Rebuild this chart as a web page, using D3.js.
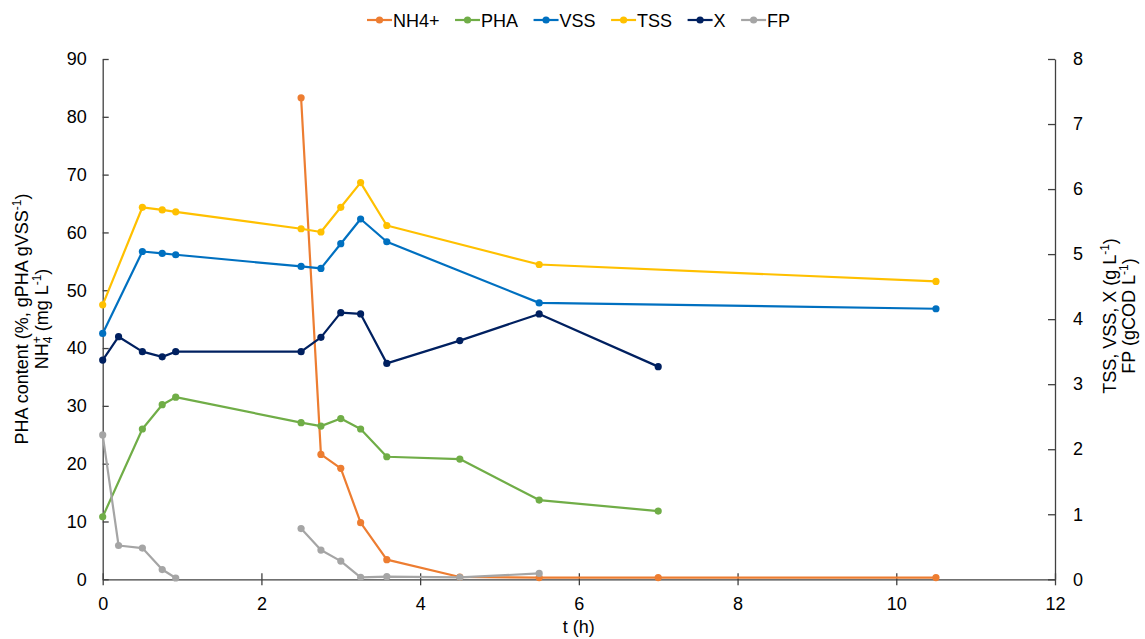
<!DOCTYPE html>
<html>
<head>
<meta charset="utf-8">
<script src="https://cdn.jsdelivr.net/npm/d3@7"></script>
<style>
  body { margin: 0; background: #fff; }
  svg { display: block; font-family: "Liberation Sans", Arial, sans-serif; }
</style>
</head>
<body>
<svg id="chart" width="1145" height="639"></svg>
<script>
// ---- Data ----
const seriesNames = ["NH4+", "PHA", "VSS", "TSS", "X", "FP"];
const seriesColors = ["#ED7D31", "#70AD47", "#0070C0", "#FFC000", "#002060", "#A5A5A5"];
const seriesAxis = ["left", "left", "right", "right", "right", "right"];

const tNH4 = [2.5, 2.75, 3, 3.25, 3.58, 4.5, 5.5, 7, 10.5];
const vNH4 = [83.3, 21.6, 19.2, 9.8, 3.4, 0.4, 0.3, 0.3, 0.3];

const tPHA = [0, 0.5, 0.75, 0.92, 2.5, 2.75, 3, 3.25, 3.58, 4.5, 5.5, 7];
const vPHA = [10.8, 26.0, 30.2, 31.5, 27.1, 26.5, 27.8, 26.0, 21.2, 20.8, 13.7, 11.8];

const tVSS = [0, 0.5, 0.75, 0.92, 2.5, 2.75, 3, 3.25, 3.58, 5.5, 10.5];
const vVSS = [3.78, 5.04, 5.01, 4.99, 4.81, 4.78, 5.16, 5.54, 5.19, 4.25, 4.16];

const tTSS = [0, 0.5, 0.75, 0.92, 2.5, 2.75, 3, 3.25, 3.58, 5.5, 10.5];
const vTSS = [4.22, 5.72, 5.68, 5.65, 5.39, 5.34, 5.72, 6.10, 5.44, 4.84, 4.58];

const tX = [0, 0.2, 0.5, 0.75, 0.92, 2.5, 2.75, 3, 3.25, 3.58, 4.5, 5.5, 7];
const vX = [3.37, 3.73, 3.50, 3.42, 3.50, 3.50, 3.72, 4.10, 4.08, 3.32, 3.67, 4.08, 3.27];

const tFP = [0, 0.2, 0.5, 0.75, 0.92, 1.5, 2.5, 2.75, 3, 3.25, 3.58, 4.5, 5.5];
const vFP = [2.22, 0.52, 0.48, 0.15, 0.02, null, 0.78, 0.45, 0.28, 0.03, 0.04, 0.03, 0.09];

const xTicks = [0, 2, 4, 6, 8, 10, 12];
const yLeftTicks = [0, 10, 20, 30, 40, 50, 60, 70, 80, 90];
const yRightTicks = [0, 1, 2, 3, 4, 5, 6, 7, 8];

const seriesT = [tNH4, tPHA, tVSS, tTSS, tX, tFP];
const seriesV = [vNH4, vPHA, vVSS, vTSS, vX, vFP];

// ---- Layout ----
const svg = d3.select("#chart");
const L = 102.7, R = 1055, T = 59, B = 579.3;
const fs = 18;
const axisColor = "#404040";

const x = d3.scaleLinear().domain([0, 12]).range([L, R]);
const yL = d3.scaleLinear().domain([0, 90]).range([B, T]);
const yR = d3.scaleLinear().domain([0, 8]).range([B, T]);

function styleAxis(g) {
  g.selectAll("path.domain").attr("stroke", axisColor).attr("stroke-width", 1.3);
  g.selectAll(".tick line").attr("stroke", axisColor).attr("stroke-width", 1.3);
  g.selectAll(".tick text").attr("fill", "#000").style("font-size", fs + "px")
    .style("font-family", "'Liberation Sans', Arial, sans-serif");
}

const gx = svg.append("g").attr("transform", `translate(0,${B})`)
  .call(d3.axisBottom(x).tickValues(xTicks).tickFormat(d3.format("d")).tickSizeOuter(0).tickSizeInner(6).tickPadding(12));
gx.selectAll(".tick line").attr("y1", -6);
styleAxis(gx);

const gyl = svg.append("g").attr("transform", `translate(${L},0)`)
  .call(d3.axisLeft(yL).tickValues(yLeftTicks).tickFormat(d3.format("d")).tickSizeOuter(0).tickSizeInner(7).tickPadding(9));
gyl.selectAll(".tick line").attr("x2", 6);
styleAxis(gyl);

const gyr = svg.append("g").attr("transform", `translate(${R},0)`)
  .call(d3.axisRight(yR).tickValues(yRightTicks).tickFormat(d3.format("d")).tickSizeOuter(0).tickSizeInner(6).tickPadding(12));
gyr.selectAll(".tick line").attr("x2", -7);
styleAxis(gyr);

// Axis titles
svg.append("text").attr("x", (L + R) / 2).attr("y", 633)
  .attr("text-anchor", "middle").style("font-size", fs + "px").text("t (h)");

const sup = 12;
// Left title
const lt = svg.append("g").attr("transform", `translate(28,319) rotate(-90)`);
const lt1 = lt.append("text").attr("text-anchor", "middle").attr("y", 0).style("font-size", fs + "px");
lt1.append("tspan").text("PHA content (%, gPHA gVSS");
lt1.append("tspan").attr("dy", -7).style("font-size", sup + "px").text("-1");
lt1.append("tspan").attr("dy", 7).text(")");
const lt2 = lt.append("text").attr("text-anchor", "middle").attr("y", 20).style("font-size", fs + "px");
lt2.append("tspan").text("NH");
lt2.append("tspan").attr("dy", 4).style("font-size", sup + "px").text("4");
lt2.append("tspan").attr("dy", -11).attr("dx", -6.7).style("font-size", sup + "px").text("+");
lt2.append("tspan").attr("dy", 7).text(" (mg L");
lt2.append("tspan").attr("dy", -7).style("font-size", sup + "px").text("-1");
lt2.append("tspan").attr("dy", 7).text(")");

// Right title
const rt = svg.append("g").attr("transform", `translate(1116,316) rotate(-90)`);
const rt1 = rt.append("text").attr("text-anchor", "middle").attr("y", 0).style("font-size", fs + "px");
rt1.append("tspan").text("TSS, VSS, X (g L");
rt1.append("tspan").attr("dy", -7).style("font-size", sup + "px").text("-1");
rt1.append("tspan").attr("dy", 7).text(")");
const rt2 = rt.append("text").attr("text-anchor", "middle").attr("y", 19).style("font-size", fs + "px");
rt2.append("tspan").text("FP (gCOD L");
rt2.append("tspan").attr("dy", -7).style("font-size", sup + "px").text("-1");
rt2.append("tspan").attr("dy", 7).text(")");

// Series
seriesNames.forEach((name, i) => {
  const ys = seriesAxis[i] === "left" ? yL : yR;
  const pts = seriesT[i].map((t, j) => ({ t: t, v: seriesV[i][j] }));
  const line = d3.line().defined(d => d.v !== null).x(d => x(d.t)).y(d => ys(d.v));
  const g = svg.append("g");
  g.append("path").datum(pts).attr("fill", "none").attr("stroke", seriesColors[i])
    .attr("stroke-width", 2.2).attr("stroke-linejoin", "round").attr("d", line);
  g.selectAll("circle").data(pts.filter(d => d.v !== null)).join("circle")
    .attr("cx", d => x(d.t)).attr("cy", d => ys(d.v)).attr("r", 3.6)
    .attr("fill", seriesColors[i]);
});

// Legend
const leg = svg.append("g");
let cx = 0;
seriesNames.forEach((name, i) => {
  const g = leg.append("g");
  g.append("line").attr("x1", 0).attr("x2", 25).attr("y1", 0).attr("y2", 0)
    .attr("stroke", seriesColors[i]).attr("stroke-width", 2.2);
  g.append("circle").attr("cx", 12.5).attr("cy", 0).attr("r", 3.6).attr("fill", seriesColors[i]);
  const tx = g.append("text").attr("x", 26).attr("y", 6.5).style("font-size", fs + "px").text(name);
  const w = 26 + tx.node().getComputedTextLength();
  g.attr("transform", `translate(${cx},0)`);
  cx += w + 15.5;
});
leg.attr("transform", `translate(367,20)`);
</script>
</body>
</html>
